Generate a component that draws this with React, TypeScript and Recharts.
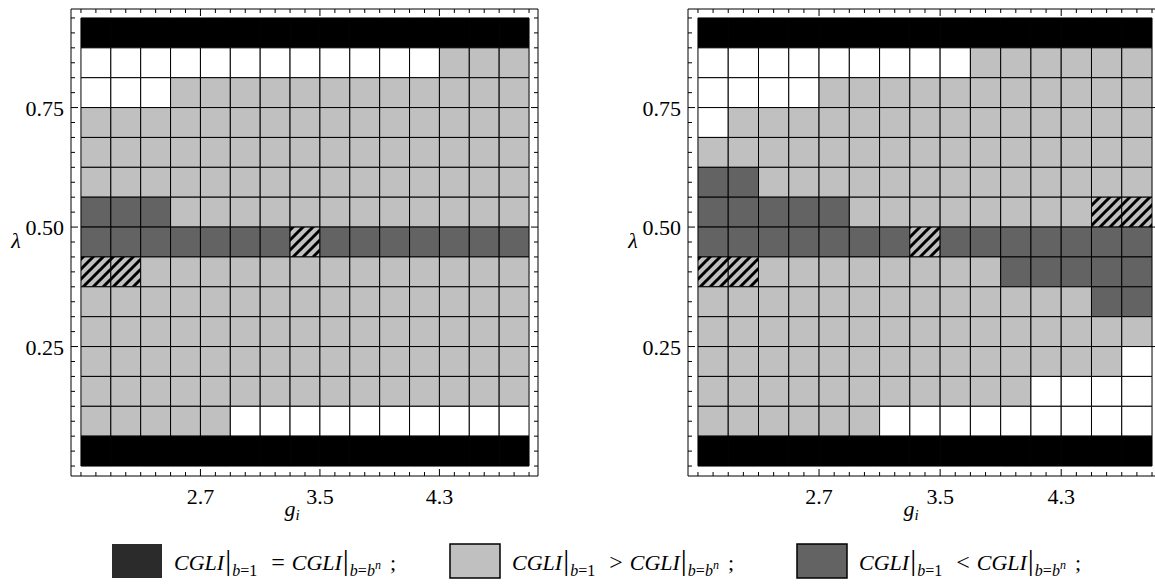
import React from 'react';
import { ComposedChart, XAxis, YAxis, ReferenceArea, Scatter } from 'recharts';

// cell codes: B = CGLI equal (black band), G = b=1 greater, D = b=1 smaller, W = blank, H = hatched
const gCenters = [2.0, 2.2, 2.4, 2.6, 2.8, 3.0, 3.2, 3.4, 3.6, 3.8, 4.0, 4.2, 4.4, 4.6, 4.8];
const lambdaCenters = [
  0.90625, 0.84375, 0.78125, 0.71875, 0.65625, 0.59375, 0.53125, 0.46875,
  0.40625, 0.34375, 0.28125, 0.21875, 0.15625, 0.09375, 0.03125,
];

const leftCells = [
  'BBBBBBBBBBBBBBB',
  'WWWWWWWWWWWWGGG',
  'WWWGGGGGGGGGGGG',
  'GGGGGGGGGGGGGGG',
  'GGGGGGGGGGGGGGG',
  'GGGGGGGGGGGGGGG',
  'DDDGGGGGGGGGGGG',
  'DDDDDDDHDDDDDDD',
  'HHGGGGGGGGGGGGG',
  'GGGGGGGGGGGGGGG',
  'GGGGGGGGGGGGGGG',
  'GGGGGGGGGGGGGGG',
  'GGGGGGGGGGGGGGG',
  'GGGGGWWWWWWWWWW',
  'BBBBBBBBBBBBBBB',
];

const rightCells = [
  'BBBBBBBBBBBBBBB',
  'WWWWWWWWWGGGGGG',
  'WWWWGGGGGGGGGGG',
  'WGGGGGGGGGGGGGG',
  'GGGGGGGGGGGGGGG',
  'DDGGGGGGGGGGGGG',
  'DDDDDGGGGGGGGHH',
  'DDDDDDDHDDDDDDD',
  'HHGGGGGGGGDDDDD',
  'GGGGGGGGGGGGGDD',
  'GGGGGGGGGGGGGGG',
  'GGGGGGGGGGGGGGW',
  'GGGGGGGGGGGWWWW',
  'GGGGGGWWWWWWWWW',
  'BBBBBBBBBBBBBBB',
];

const xMajorTicks = [2.7, 3.5, 4.3];
const yMajorTicks = [0.25, 0.5, 0.75];

const legendCodes = ['E', 'G', 'D'];
const legendRelations = ['=', '>', '<'];

const FONT = '"Liberation Serif", "Times New Roman", Times, serif';
const CHART_H = 586;
const MARGIN = { top: 8, left: 70, right: 8, bottom: 109 };
const HALF_W = 0.1;
const HALF_H = 1 / 32;

const xTicks = Array.from({ length: 31 }, (_, i) => +(1.9 + i * 0.1).toFixed(1));
const yTicks = Array.from({ length: 31 }, (_, i) => i / 32);
const yDomain = [-10 / 480, 0.9375 + 9 / 480];

const cellFill: Record<string, string> = {
  B: '#000000',
  G: '#c0c0c0',
  D: '#636363',
  W: '#ffffff',
};
const swatchFill: Record<string, string> = { E: '#2b2b2b', G: '#c0c0c0', D: '#636363' };

const isMajor = (v: number, majors: number[]) => majors.some((m) => Math.abs(m - v) < 1e-6);
const serif = { fontFamily: FONT };
const textStyle = { fontSize: 22, fill: '#000', style: serif };

const toPoints = (cells: string[]) =>
  cells.flatMap((row, r) =>
    row.split('').map((code, c) => ({ g: gCenters[c], lambda: lambdaCenters[r], code }))
  );

const bottomTick = (props: any) => {
  const { x, y, payload } = props;
  const major = isMajor(payload.value, xMajorTicks);
  return (
    <g>
      <line x1={x} x2={x} y1={y} y2={y - (major ? 7 : 4)} stroke="#000" />
      {major && (
        <text x={x} y={y + 28} textAnchor="middle" {...textStyle}>
          {payload.value.toFixed(1)}
        </text>
      )}
    </g>
  );
};

const topTick = (props: any) => {
  const { x, y, payload } = props;
  const major = isMajor(payload.value, xMajorTicks);
  return <line x1={x} x2={x} y1={y} y2={y + (major ? 7 : 4)} stroke="#000" />;
};

const leftTick = (props: any) => {
  const { x, y, payload } = props;
  const major = isMajor(payload.value, yMajorTicks);
  return (
    <g>
      <line x1={x} x2={x + (major ? 7 : 4)} y1={y} y2={y} stroke="#000" />
      {major && (
        <text x={x - 7} y={y + 8} textAnchor="end" {...textStyle}>
          {payload.value.toFixed(2)}
        </text>
      )}
    </g>
  );
};

const rightTick = (props: any) => {
  const { x, y, payload } = props;
  const major = isMajor(payload.value, yMajorTicks);
  return <line x1={x} x2={x - (major ? 7 : 4)} y1={y} y2={y} stroke="#000" />;
};

const LambdaTitle = ({ px, py }: any) => (
  <text x={px} y={py} textAnchor="middle" fontStyle="italic" {...textStyle}>
    λ
  </text>
);

const GTitle = ({ px, py }: any) => (
  <text x={px} y={py} fontStyle="italic" {...textStyle}>
    g
    <tspan fontSize={15} dy={4}>
      i
    </tspan>
  </text>
);

interface PanelProps {
  cells: string[];
  left: number;
  plotWidth: number;
  xDomain: number[];
  hatchId: string;
}

function Panel({ cells, left, plotWidth, xDomain, hatchId }: PanelProps) {
  const width = MARGIN.left + plotWidth + MARGIN.right;
  const centerX = MARGIN.left + plotWidth / 2;
  const axisLine = { stroke: '#000', strokeWidth: 1 };
  const points = toPoints(cells);

  return (
    <div style={{ position: 'absolute', left, top: 0 }}>
      <ComposedChart width={width} height={CHART_H} margin={MARGIN} data={points}>
        <defs>
          <pattern id={hatchId} patternUnits="userSpaceOnUse" width={10} height={10}>
            <rect width={10} height={10} fill="#c0c0c0" />
            <path d="M-2,2 L2,-2 M0,10 L10,0 M8,12 L12,8" stroke="#000" strokeWidth={3} />
          </pattern>
        </defs>
        <XAxis
          dataKey="g"
          type="number"
          domain={xDomain}
          ticks={xTicks}
          allowDataOverflow
          interval={0}
          height={1}
          tickSize={0}
          tickMargin={0}
          tickLine={false}
          axisLine={axisLine}
          tick={bottomTick}
          label={<GTitle px={centerX - 20} py={516} />}
        />
        <XAxis
          xAxisId="top"
          dataKey="g"
          orientation="top"
          type="number"
          domain={xDomain}
          ticks={xTicks}
          allowDataOverflow
          interval={0}
          height={1}
          tickSize={0}
          tickMargin={0}
          tickLine={false}
          axisLine={axisLine}
          tick={topTick}
        />
        <YAxis
          dataKey="lambda"
          type="number"
          domain={yDomain}
          ticks={yTicks}
          allowDataOverflow
          interval={0}
          width={1}
          tickSize={0}
          tickMargin={0}
          tickLine={false}
          axisLine={axisLine}
          tick={leftTick}
          label={<LambdaTitle px={16} py={248} />}
        />
        <YAxis
          yAxisId="right"
          dataKey="lambda"
          orientation="right"
          type="number"
          domain={yDomain}
          ticks={yTicks}
          allowDataOverflow
          interval={0}
          width={1}
          tickSize={0}
          tickMargin={0}
          tickLine={false}
          axisLine={axisLine}
          tick={rightTick}
        />
        {points.map((p, i) => (
          <ReferenceArea
            key={i}
            x1={p.g - HALF_W}
            x2={p.g + HALF_W}
            y1={p.lambda - HALF_H}
            y2={p.lambda + HALF_H}
            fill={p.code === 'H' ? `url(#${hatchId})` : cellFill[p.code]}
            fillOpacity={1}
            stroke="#000"
            strokeWidth={1}
          />
        ))}
        <Scatter dataKey="lambda" fill="none" isAnimationActive={false} shape={() => <g />} />
      </ComposedChart>
    </div>
  );
}

const swatchX = [112, 450, 797];

function LegendItem({ code, relation, x }: { code: string; relation: string; x: number }) {
  return (
    <g>
      <rect
        x={x}
        y={14}
        width={50}
        height={34}
        fill={swatchFill[code]}
        stroke={code === 'E' ? 'none' : '#000'}
        strokeWidth={1.5}
      />
      <text x={x + 62} y={40} {...textStyle}>
        <tspan fontStyle="italic">CGLI</tspan>
        <tspan fontSize={30} dx={1}>|</tspan>
        <tspan fontSize={16} fontStyle="italic" dy={6} dx={1}>b</tspan>
        <tspan fontSize={16}>=1</tspan>
        <tspan dy={-6} dx={14} fontSize={24}>{relation}</tspan>
        <tspan fontStyle="italic" dx={7}>CGLI</tspan>
        <tspan fontSize={30} dx={1}>|</tspan>
        <tspan fontSize={16} fontStyle="italic" dy={6} dx={1}>b</tspan>
        <tspan fontSize={16}>=</tspan>
        <tspan fontSize={16} fontStyle="italic">b</tspan>
        <tspan fontSize={12} fontStyle="italic" dy={-7}>n</tspan>
        <tspan dy={1} dx={9}>;</tspan>
      </text>
    </g>
  );
}

export default function App() {
  return (
    <div
      style={{
        position: 'absolute',
        left: 0,
        top: 0,
        width: 1155,
        height: 586,
        overflow: 'hidden',
        background: '#fff',
        fontFamily: FONT,
      }}
    >
      <Panel
        cells={leftCells}
        left={0}
        plotWidth={469}
        xDomain={[1.9 - 10 / 150, 4.9 + 9 / 150]}
        hatchId="hatch-left"
      />
      <Panel
        cells={rightCells}
        left={617}
        plotWidth={473}
        xDomain={[1.9 - 10 / 152, 4.9 + 7 / 152]}
        hatchId="hatch-right"
      />
      <svg width={1155} height={56} style={{ position: 'absolute', left: 0, top: 530 }}>
        {legendCodes.map((code, i) => (
          <LegendItem key={code} code={code} relation={legendRelations[i]} x={swatchX[i]} />
        ))}
      </svg>
    </div>
  );
}
